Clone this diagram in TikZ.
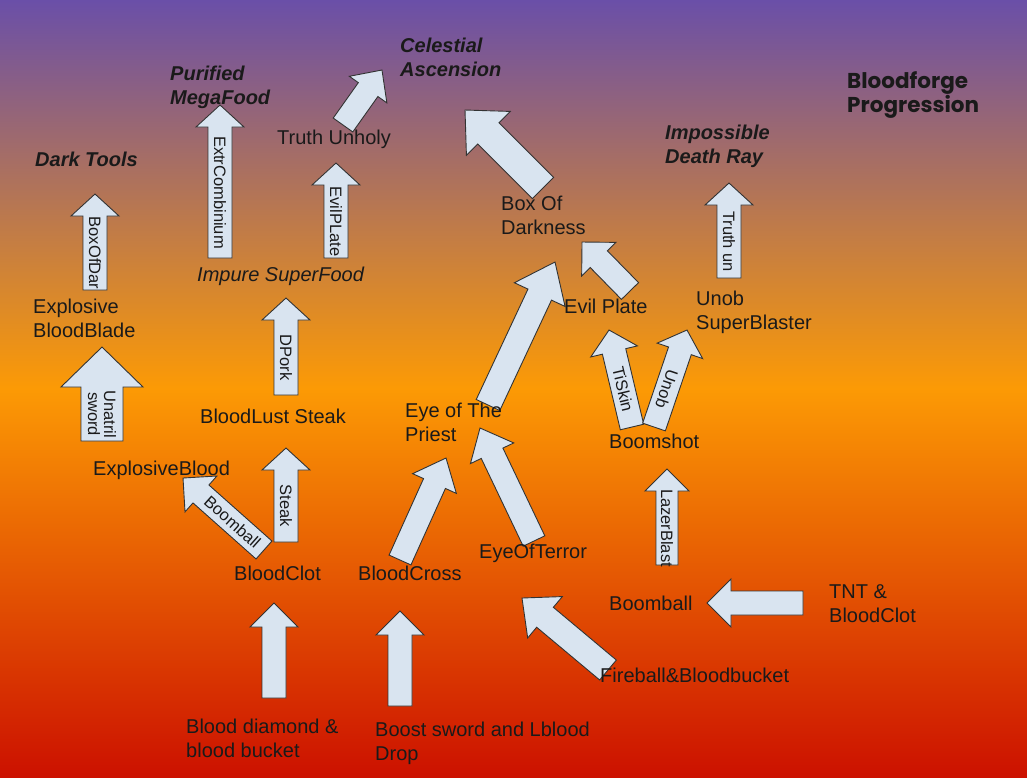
\documentclass[tikz,border=0pt]{standalone}
\usepackage{fontspec}
\setmainfont{Liberation Sans}
\newfontfamily\titlefont{Poppins}
\usetikzlibrary{calc}
\definecolor{topc}{HTML}{6A4FA8}
\definecolor{midc}{HTML}{FC9A05}
\definecolor{botc}{HTML}{CC1100}
\definecolor{afill}{HTML}{D9E4F0}
\definecolor{txt}{HTML}{1A1A1A}
\tikzset{
  barrow/.style={fill=afill,draw=black!80,line width=0.9pt,line join=miter},
  lbl/.style={font=\fontsize{16.5}{16}\selectfont,text=txt,inner sep=0pt,align=center},
  t/.style={font=\fontsize{20}{24}\selectfont,text=txt,anchor=base west,align=left,inner sep=0pt},
  ti/.style={t,font=\fontsize{20}{24}\selectfont\itshape},
  tb/.style={t,font=\fontsize{20}{24}\selectfont\bfseries\itshape},
}
% \BA(tail)(tip){halfshaft}{halfhead}{headlen}{label}
\def\BA(#1)(#2)#3#4#5#6{%
  \draw[barrow] let \p1=(#1),\p2=(#2),\n1={atan2(\y2-\y1,\x2-\x1)},
    \n2={veclen(\x2-\x1,\y2-\y1)} in
    [shift={(\p1)},rotate=\n1]
    (0pt,-#3pt) -- (\n2-#5pt,-#3pt) -- (\n2-#5pt,-#4pt) -- (\n2,0pt)
    -- (\n2-#5pt,#4pt) -- (\n2-#5pt,#3pt) -- (0pt,#3pt) -- cycle
    ({(\n2-#5pt)/2},0pt) node[lbl,rotate=\n1+180]{#6};}
\begin{document}
\begin{tikzpicture}[x=1pt,y=1pt]
\shade[top color=topc,bottom color=botc,middle color=midc] (0,0) rectangle (1027,-777);
\useasboundingbox (0,0) rectangle (1027,-777);
% coordinates
\coordinate (a1s) at (95,-290); \coordinate (a1e) at (95,-194);
\coordinate (a2s) at (220,-258); \coordinate (a2e) at (220,-105);
\coordinate (a3s) at (336,-258); \coordinate (a3e) at (336,-163);
\coordinate (a4s) at (343,-125); \coordinate (a4e) at (382,-70);
\coordinate (a5s) at (543,-188); \coordinate (a5e) at (465,-110);
\coordinate (a6s) at (102,-441); \coordinate (a6e) at (102,-347);
\coordinate (a7s) at (286,-395); \coordinate (a7e) at (286,-298);
\coordinate (a8s) at (286,-542); \coordinate (a8e) at (286,-448);
\coordinate (a9s) at (264,-550); \coordinate (a9e) at (183,-478);
\coordinate (a10s) at (274,-698); \coordinate (a10e) at (274,-603);
\coordinate (a11s) at (400,-706); \coordinate (a11e) at (400,-611);
\coordinate (a12s) at (400,-560); \coordinate (a12e) at (446,-458);
\coordinate (a13s) at (534,-541); \coordinate (a13e) at (480,-428);
\coordinate (a14s) at (488,-405); \coordinate (a14e) at (555,-262);
\coordinate (a15s) at (630,-291); \coordinate (a15e) at (582,-242);
\coordinate (a16s) at (632,-427); \coordinate (a16e) at (609,-330);
\coordinate (a17s) at (654,-427); \coordinate (a17e) at (687,-330);
\coordinate (a18s) at (729,-278); \coordinate (a18e) at (729,-183);
\coordinate (a19s) at (667,-565); \coordinate (a19e) at (667,-469);
\coordinate (a20s) at (803,-603); \coordinate (a20e) at (707,-603);
\coordinate (a21s) at (608,-670); \coordinate (a21e) at (522,-598);
% arrows
\BA(a1s)(a1e){12}{24}{22}{BoxOfDar}
\BA(a2s)(a2e){12}{24}{22}{ExtrCombinium}
\BA(a3s)(a3e){12}{24}{22}{EvilPLate}
\BA(a4s)(a4e){12}{23}{24}{}
\BA(a5s)(a5e){15}{31}{33}{}
\BA(a6s)(a6e){21}{41}{40}{Unatril\\sword}
\BA(a7s)(a7e){12}{24}{22}{DPork}
\BA(a8s)(a8e){12}{24}{22}{Steak}
\BA(a9s)(a9e){12}{24}{24}{Boomball}
\BA(a10s)(a10e){12}{24}{24}{}
\BA(a11s)(a11e){12}{24}{24}{}
\BA(a12s)(a12e){12}{24}{28}{}
\BA(a13s)(a13e){12}{24}{28}{}
\BA(a14s)(a14e){13}{28}{36}{}
\BA(a15s)(a15e){12}{24}{24}{}
\BA(a16s)(a16e){12}{24}{22}{TiSkin}
\BA(a17s)(a17e){12}{24}{22}{Unob}
\BA(a18s)(a18e){12}{24}{22}{Truth un}
\BA(a19s)(a19e){11}{22}{22}{LazerBlast}
\BA(a20s)(a20e){12}{24}{24}{}
\BA(a21s)(a21e){13}{27}{30}{}
% texts
\node[tb] (darktools) at (35,-166) {Dark Tools};
\node[tb] (purified) at (170,-104) {Purified\\MegaFood};
\node[tb] (celestial) at (400,-76) {Celestial\\Ascension};
\node[t] (truthunholy) at (277,-144) {Truth Unholy};
\node[t,font=\fontsize{21.5}{24}\selectfont\titlefont\bfseries] (title) at (847,-112) {Bloodforge\\Progression};
\node[tb] (impossible) at (665,-163) {Impossible\\Death Ray};
\node[t] (box) at (501,-234) {Box Of\\Darkness};
\node[t] (expblade) at (33,-337) {Explosive\\BloodBlade};
\node[ti] (impure) at (197,-281) {Impure SuperFood};
\node[t] (evilplate) at (564,-313) {Evil Plate};
\node[t] (unob) at (696,-329) {Unob\\SuperBlaster};
\node[t] (steak) at (200,-423) {BloodLust Steak};
\node[t] (eye) at (405,-441) {Eye of The\\Priest};
\node[t] (boomshot) at (609,-448) {Boomshot};
\node[t] (expblood) at (93,-475) {ExplosiveBlood};
\node[t] (terror) at (479,-558) {EyeOfTerror};
\node[t] (clot) at (234,-580) {BloodClot};
\node[t] (cross) at (358,-580) {BloodCross};
\node[t] (boomball) at (609,-610) {Boomball};
\node[t] (tnt) at (829,-622) {TNT \&\\BloodClot};
\node[t] (fireball) at (600,-682) {Fireball\&Bloodbucket};
\node[t] (diamond) at (186,-757) {Blood diamond \&\\blood bucket};
\node[t] (boost) at (375,-760) {Boost sword and Lblood\\Drop};
\end{tikzpicture}
\end{document}
